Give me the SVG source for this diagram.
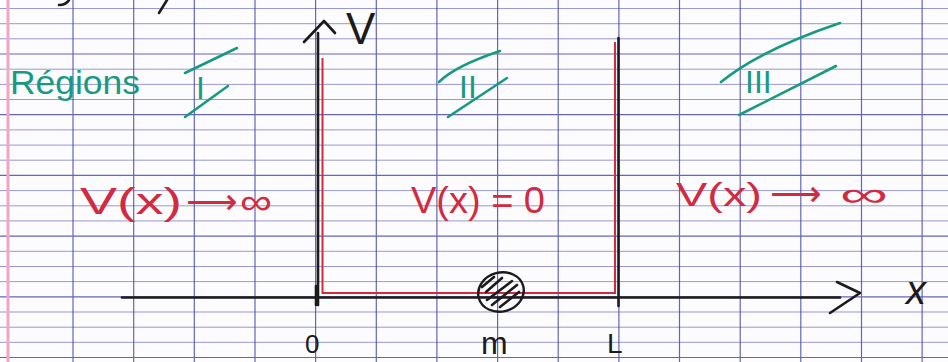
<svg xmlns="http://www.w3.org/2000/svg" width="948" height="362" viewBox="0 0 948 362">
  <defs>
    <style>
      .grid { stroke: #4646aa; stroke-width: 0.9; opacity: 0.6; }
      .gridb { stroke: #34349a; stroke-width: 1.2; opacity: 0.75; }
      .ink { stroke: #1c1a1a; stroke-width: 2.6; fill: none; stroke-linecap: round; stroke-linejoin: round; }
      .red { stroke: #d22a3e; stroke-width: 2; fill: none; }
      .grn { stroke: #189a80; stroke-width: 2.6; fill: none; stroke-linecap: round; }
      .tg { fill: #189a80; font-family: "Liberation Sans", "DejaVu Sans", sans-serif; }
      .tr { fill: #d22a3e; font-family: "Liberation Sans", "DejaVu Sans", sans-serif; }
      .tk { fill: #1c1a1a; font-family: "Liberation Sans", "DejaVu Sans", sans-serif; }
      .ar { font-family: "DejaVu Sans", sans-serif; }
    </style>
  </defs>
  <rect width="948" height="362" fill="#fcfcff"/>
  <g id="paper">
    <g class="grid">
      <line x1="0" y1="8.5" x2="948" y2="8.5"/>
      <line x1="0" y1="23.7" x2="948" y2="23.7"/>
      <line x1="0" y1="38.8" x2="948" y2="38.8"/>
      <line x1="0" y1="69.2" x2="948" y2="69.2"/>
      <line x1="0" y1="84.4" x2="948" y2="84.4"/>
      <line x1="0" y1="99.5" x2="948" y2="99.5"/>
      <line x1="0" y1="129.9" x2="948" y2="129.9"/>
      <line x1="0" y1="145.1" x2="948" y2="145.1"/>
      <line x1="0" y1="160.2" x2="948" y2="160.2"/>
      <line x1="0" y1="190.6" x2="948" y2="190.6"/>
      <line x1="0" y1="205.8" x2="948" y2="205.8"/>
      <line x1="0" y1="220.9" x2="948" y2="220.9"/>
      <line x1="0" y1="251.3" x2="948" y2="251.3"/>
      <line x1="0" y1="266.5" x2="948" y2="266.5"/>
      <line x1="0" y1="281.6" x2="948" y2="281.6"/>
      <line x1="0" y1="312.0" x2="948" y2="312.0"/>
      <line x1="0" y1="327.2" x2="948" y2="327.2"/>
      <line x1="0" y1="342.3" x2="948" y2="342.3"/>
    </g>
    <g class="gridb">
      <line x1="0" y1="54" x2="948" y2="54"/>
      <line x1="0" y1="114.7" x2="948" y2="114.7"/>
      <line x1="0" y1="175.4" x2="948" y2="175.4"/>
      <line x1="0" y1="236.1" x2="948" y2="236.1"/>
      <line x1="0" y1="296.8" x2="948" y2="296.8"/>
      <line x1="0" y1="357.5" x2="948" y2="357.5"/>
      <line x1="73" y1="0" x2="73" y2="362"/>
      <line x1="133.7" y1="0" x2="133.7" y2="362"/>
      <line x1="194.3" y1="0" x2="194.3" y2="362"/>
      <line x1="255" y1="0" x2="255" y2="362"/>
      <line x1="315.6" y1="0" x2="315.6" y2="362"/>
      <line x1="376.3" y1="0" x2="376.3" y2="362"/>
      <line x1="436.9" y1="0" x2="436.9" y2="362"/>
      <line x1="497.6" y1="0" x2="497.6" y2="362"/>
      <line x1="558.2" y1="0" x2="558.2" y2="362"/>
      <line x1="618.9" y1="0" x2="618.9" y2="362"/>
      <line x1="679.5" y1="0" x2="679.5" y2="362"/>
      <line x1="740.2" y1="0" x2="740.2" y2="362"/>
      <line x1="800.8" y1="0" x2="800.8" y2="362"/>
      <line x1="861.5" y1="0" x2="861.5" y2="362"/>
      <line x1="922.1" y1="0" x2="922.1" y2="362"/>
    </g>
    <line x1="8" y1="0" x2="8" y2="362" stroke="#f2a6c6" stroke-width="3"/>
    <path class="ink" d="M59 5 Q66 5 69 0" stroke-width="2"/>
    <path class="ink" d="M159 13 L167 0" stroke-width="2.2"/>
  </g>

  <g id="well">
    <path class="red" d="M322.5 58 L322.5 293 L615 293 L615 42"/>
  </g>

  <g id="connectors">
    <line class="ink" x1="122" y1="297.5" x2="840" y2="297.5" stroke-width="2.8"/>
    <path class="ink" d="M837 282 L860 293 L830 313"/>
    <line class="ink" x1="318" y1="33" x2="318" y2="305"/>
    <path class="ink" d="M304 42 L324 21 L335 33"/>
    <line class="ink" x1="618.5" y1="38" x2="618.5" y2="306"/>
    <line class="ink" x1="316" y1="286" x2="316" y2="305"/>
  </g>

  <g id="particle">
    <ellipse cx="501" cy="292" rx="23" ry="19.5" transform="rotate(-15 501 292)" fill="none" stroke="#1c1a1a" stroke-width="2.4"/>
    <g class="ink" stroke-width="1.8">
      <line x1="486" y1="292" x2="502" y2="278"/>
      <line x1="487" y1="300" x2="512" y2="281"/>
      <line x1="492" y1="305" x2="517" y2="285"/>
      <line x1="500" y1="307" x2="519" y2="292"/>
      <line x1="482" y1="287" x2="494" y2="277"/>
    </g>
  </g>

  <g id="region-label">
    <text class="tg" x="10" y="94" font-size="34" textLength="130" lengthAdjust="spacingAndGlyphs">Régions</text>
  </g>
  <g id="region-I">
    <line class="grn" x1="185" y1="73" x2="237" y2="48"/>
    <line class="grn" x1="185" y1="117" x2="228" y2="86"/>
    <text class="tg" x="196" y="99" font-size="32">I</text>
  </g>
  <g id="region-II">
    <path class="grn" d="M439 82 Q455 66 500 51"/>
    <line class="grn" x1="448" y1="117" x2="507" y2="78"/>
    <text class="tg" x="459" y="98" font-size="32">II</text>
  </g>
  <g id="region-III">
    <path class="grn" d="M721 82 Q760 50 840 23"/>
    <line class="grn" x1="739" y1="115" x2="836" y2="66"/>
    <text class="tg" x="745" y="93" font-size="32">III</text>
  </g>

  <g id="potential-I">
    <text class="tr" y="214" font-size="36"><tspan x="80" textLength="102" lengthAdjust="spacingAndGlyphs">V(x)</tspan><tspan class="ar" x="186" font-size="36">⟶</tspan><tspan x="240" textLength="32" lengthAdjust="spacingAndGlyphs">∞</tspan></text>
  </g>
  <g id="potential-II">
    <text class="tr" x="411" y="213" font-size="36" textLength="134" lengthAdjust="spacingAndGlyphs">V(x) = 0</text>
  </g>
  <g id="potential-III">
    <text class="tr" y="206" font-size="34"><tspan x="676" textLength="86" lengthAdjust="spacingAndGlyphs">V(x)</tspan><tspan class="ar" x="770" font-size="36">⟶</tspan><tspan x="840" textLength="48" lengthAdjust="spacingAndGlyphs">∞</tspan></text>
  </g>

  <g id="axis-labels">
    <text class="tk" x="346" y="44" font-size="44">V</text>
    <text class="tk" x="906" y="304" font-size="40" font-style="italic">x</text>
    <text class="tk" x="305" y="353" font-size="26">0</text>
    <text class="tk" x="481" y="354" font-size="32">m</text>
    <text class="tk" x="607" y="353" font-size="28">L</text>
  </g>
</svg>
